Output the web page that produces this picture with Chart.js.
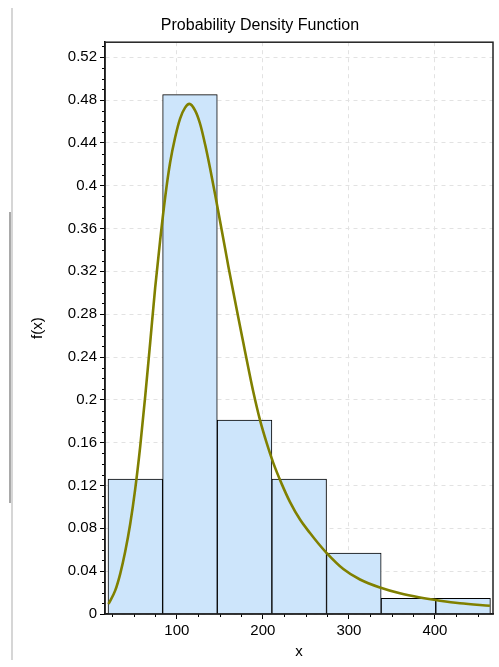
<!DOCTYPE html>
<html>
<head>
<meta charset="utf-8">
<script src="https://cdn.jsdelivr.net/npm/chart.js@4.4.1/dist/chart.umd.min.js"></script>
<style>
  html, body { margin: 0; padding: 0; background: #fff; }
  #wrap { position: relative; width: 499px; height: 667px; }
  .edge { position: absolute; left: 11px; top: 8px; width: 2px; height: 652px; background: #d6d6d6; }
  .thumb { position: absolute; left: 9px; top: 212px; width: 2px; height: 291px; background: #a9a9a9; }
  canvas { position: absolute; left: 0; top: 0; }
</style>
</head>
<body>
<div id="wrap">
  <div class="edge"></div>
  <div class="thumb"></div>
  <canvas id="pdf" width="499" height="667"></canvas>
</div>
<script>
// histogram bins (centre of each bin) and their heights
const binCenters = [51.75, 115.25, 178.75, 242.25, 305.75, 369.25, 432.75];
const binHeights = [0.126, 0.485, 0.181, 0.126, 0.057, 0.0146, 0.0146];

// fitted density curve
const curveX = [20.6, 28.3, 34.1, 40.0, 45.8, 51.6, 57.4, 63.2, 69.0, 74.8, 80.6, 86.4, 92.2,
  98.0, 103.8, 109.6, 114.6, 121.3, 127.1, 132.9, 138.7, 144.5, 150.3, 156.1, 159.9,
  165.7, 171.5, 177.4, 183.2, 189.0, 196.7, 204.5, 212.2, 222.0, 231.6, 243.2, 254.8,
  264.5, 274.2, 293.5, 312.9, 336.1, 359.3, 382.6, 405.8, 429.0, 463.9];
const curveY = [0.0093, 0.0218, 0.0373, 0.0583, 0.084, 0.1166, 0.1563, 0.2029, 0.2533, 0.3046, 0.3489, 0.389, 0.4216,
  0.445, 0.4627, 0.4729, 0.4764, 0.4701, 0.4576, 0.4384, 0.416, 0.3918, 0.3666, 0.3414, 0.3246,
  0.3004, 0.2766, 0.2528, 0.2295, 0.2071, 0.181, 0.1595, 0.1409, 0.1213, 0.1045, 0.0882, 0.0756,
  0.0658, 0.0569, 0.042, 0.0322, 0.0247, 0.0193, 0.0154, 0.0124, 0.01, 0.0077];

const fontFamily = '"Liberation Sans", Arial, sans-serif';

// small ticks between the labelled ones + frame round the plot
const minorTicks = {
  id: 'minorTicks',
  afterDraw(chart) {
    const { ctx, chartArea: a, scales: { x, y } } = chart;
    ctx.save();
    ctx.strokeStyle = '#000';
    ctx.lineWidth = 1;
    ctx.beginPath();
    for (let i = 1; i * 0.01 < y.max; i++) {
      if (i % 4 === 0) continue;
      const p = Math.round(y.getPixelForValue(i * 0.01)) + 0.5;
      ctx.moveTo(a.left - 3, p);
      ctx.lineTo(a.left, p);
    }
    for (let i = 1; i * 25 < x.max; i++) {
      if (i % 4 === 0 || i * 25 < x.min) continue;
      const p = Math.round(x.getPixelForValue(i * 25)) + 0.5;
      ctx.moveTo(p, a.bottom);
      ctx.lineTo(p, a.bottom + 3);
    }
    ctx.stroke();
    ctx.lineWidth = 1.5;
    ctx.strokeStyle = '#222';
    ctx.strokeRect(a.left, a.top, a.right - a.left, a.bottom - a.top);
    ctx.restore();
  }
};

new Chart(document.getElementById('pdf'), {
  type: 'bar',
  data: {
    datasets: [
      {
        type: 'line',
        data: curveX.map((v, i) => ({ x: v, y: curveY[i] })),
        borderColor: '#808000',
        borderWidth: 2.6,
        pointRadius: 0,
        cubicInterpolationMode: 'monotone',
        fill: false,
        order: 0
      },
      {
        type: 'bar',
        data: binCenters.map((v, i) => ({ x: v, y: binHeights[i] })),
        backgroundColor: '#cde5fb',
        borderColor: '#000',
        borderWidth: 1,
        barPercentage: 1,
        categoryPercentage: 1,
        order: 1
      }
    ]
  },
  options: {
    responsive: false,
    devicePixelRatio: 1,
    animation: false,
    layout: { padding: { left: 27, right: 6, top: 0, bottom: 0 } },
    plugins: {
      legend: { display: false },
      tooltip: { enabled: false },
      title: {
        display: true,
        text: 'Probability Density Function',
        color: '#000',
        font: { family: fontFamily, size: 16, weight: 'normal' },
        padding: { top: 16, bottom: 7 }
      }
    },
    scales: {
      x: {
        type: 'linear',
        min: 16.5,
        max: 467.5,
        offset: false,
        ticks: { stepSize: 100, includeBounds: false, color: '#000', padding: 3, maxRotation: 0,
          font: { family: fontFamily, size: 15 } },
        grid: { color: '#e2e2e2', tickColor: '#000', tickLength: 5, offset: false },
        border: { color: '#000', width: 1.5, dash: [4, 4] },
        title: { display: true, text: 'x', color: '#000',
          font: { family: fontFamily, size: 15 }, padding: { top: 0, bottom: 6 } },
        afterFit(s) { s.height = 53; }
      },
      y: {
        min: 0,
        max: 0.534,
        ticks: { stepSize: 0.04, includeBounds: false, color: '#000', padding: 3,
          font: { family: fontFamily, size: 15 },
          callback: v => String(+v.toFixed(2)) },
        grid: { color: '#e2e2e2', tickColor: '#000', tickLength: 5 },
        border: { color: '#000', width: 1.5, dash: [4, 4] },
        title: { display: true, text: 'f(x)', color: '#000',
          font: { family: fontFamily, size: 15 }, padding: { top: 2, bottom: 0 } },
        afterFit(s) { s.width = 78; }
      }
    }
  },
  plugins: [minorTicks]
});
</script>
</body>
</html>
